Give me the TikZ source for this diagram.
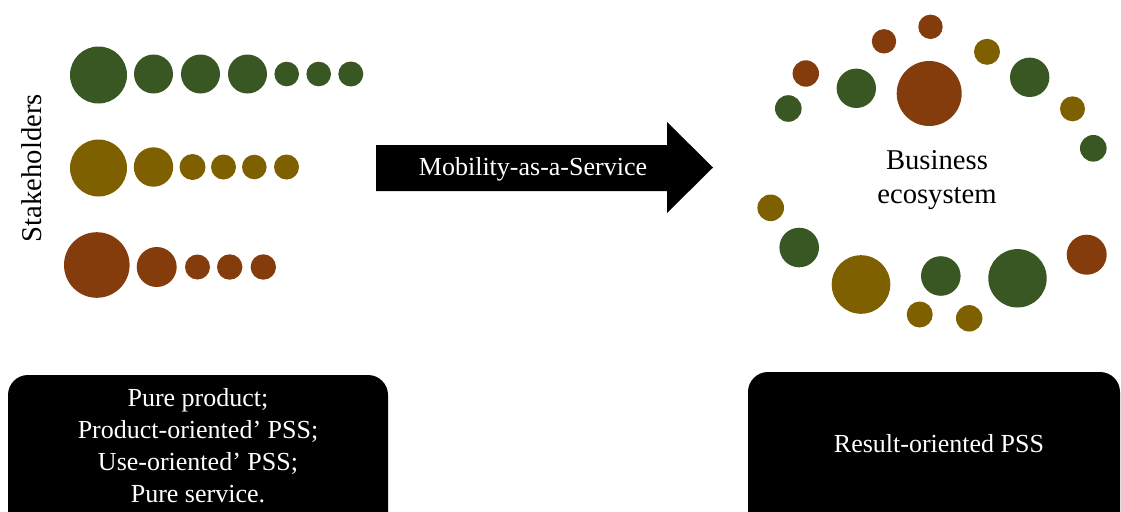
\documentclass[tikz,border=0pt]{standalone}
\usepackage{fontspec}
\setmainfont{Liberation Serif}
\definecolor{dkgreen}{RGB}{56,87,35}
\definecolor{dkolive}{RGB}{127,96,0}
\definecolor{dkbrown}{RGB}{132,60,12}
\tikzset{
  greendot/.style={fill=dkgreen},
  olivedot/.style={fill=dkolive},
  browndot/.style={fill=dkbrown},
  blackbox/.style={fill=black, rounded corners=15pt},
  boxtext/.style={text=white, inner sep=0.75pt, align=center, font=\fontsize{19.5}{24}\selectfont},
  bigtext/.style={inner sep=0.75pt, align=center, font=\fontsize{21.5}{26}\selectfont}
}
\begin{document}
\begin{tikzpicture}[x=0.75pt,y=0.75pt,yscale=-1,xscale=1]
\clip (0,0) rectangle (1121,511);

%Stakeholder rows
\fill [greendot] (98.5,75) circle (28.5) (153.5,74) circle (19.5) (200.5,74) circle (19.5) (247.5,74) circle (19.5) (286.7,74) circle (12.3) (318.7,74) circle (12.3) (350.8,74) circle (12.5) ;
\fill [olivedot] (98.5,168) circle (28.5) (153.5,167) circle (19.7) (192.5,167) circle (13) (223.5,167) circle (12.5) (254.3,167) circle (12.3) (286.5,167) circle (12.5) ;
\fill [browndot] (96.8,265) circle (32.8) (156.7,267) circle (20) (197.5,267) circle (12.5) (229.7,267) circle (12.7) (263.3,267) circle (12.7) ;

% Text Node
\node [bigtext, rotate=90] (stakeholders) at (32,168) {Stakeholders};

%Block arrow
\fill (376,145) -- (667,145) -- (667,122) -- (713,167.5) -- (667,213) -- (667,191) -- (376,191) -- cycle ;
% Text Node
\node [boxtext] (maas) at (533,169) {Mobility-as-a-Service};

%Ecosystem ring
\fill [browndot] (884,41.3) circle (12.2) (930.5,26.8) circle (12.2) (1086.7,254.7) circle (20) (805.8,73.5) circle (13.2) (929.2,93.5) circle (32.5) ;
\fill [olivedot] (987,51.8) circle (13) (1072.5,108.8) circle (12.5) (969.2,318.3) circle (13.2) (919.7,314.5) circle (13) (861,284.5) circle (29.3) (770.7,207.8) circle (13.3) ;
\fill [greendot] (1029.7,77.3) circle (19.7) (1093.3,148.3) circle (13.3) (1017.5,278.3) circle (29.2) (940.8,276) circle (19.8) (799.2,247.5) circle (19.8) (788.3,108.5) circle (13.3) (856.3,88.3) circle (19.7) ;

% Text Node
\node [bigtext] (ecosystem) at (937,180) {Business\\ecosystem};

%Bottom boxes
\fill [blackbox] (8,375) rectangle (388,545) ;
\fill [blackbox] (748,372) rectangle (1120,545) ;

% Text Node
\node [boxtext] (pss) at (198,446) {Pure product;\\Product-oriented’ PSS;\\Use-oriented’ PSS;\\Pure service.};
% Text Node
\node [boxtext] (result) at (939,444) {Result-oriented PSS};

\end{tikzpicture}
\end{document}
